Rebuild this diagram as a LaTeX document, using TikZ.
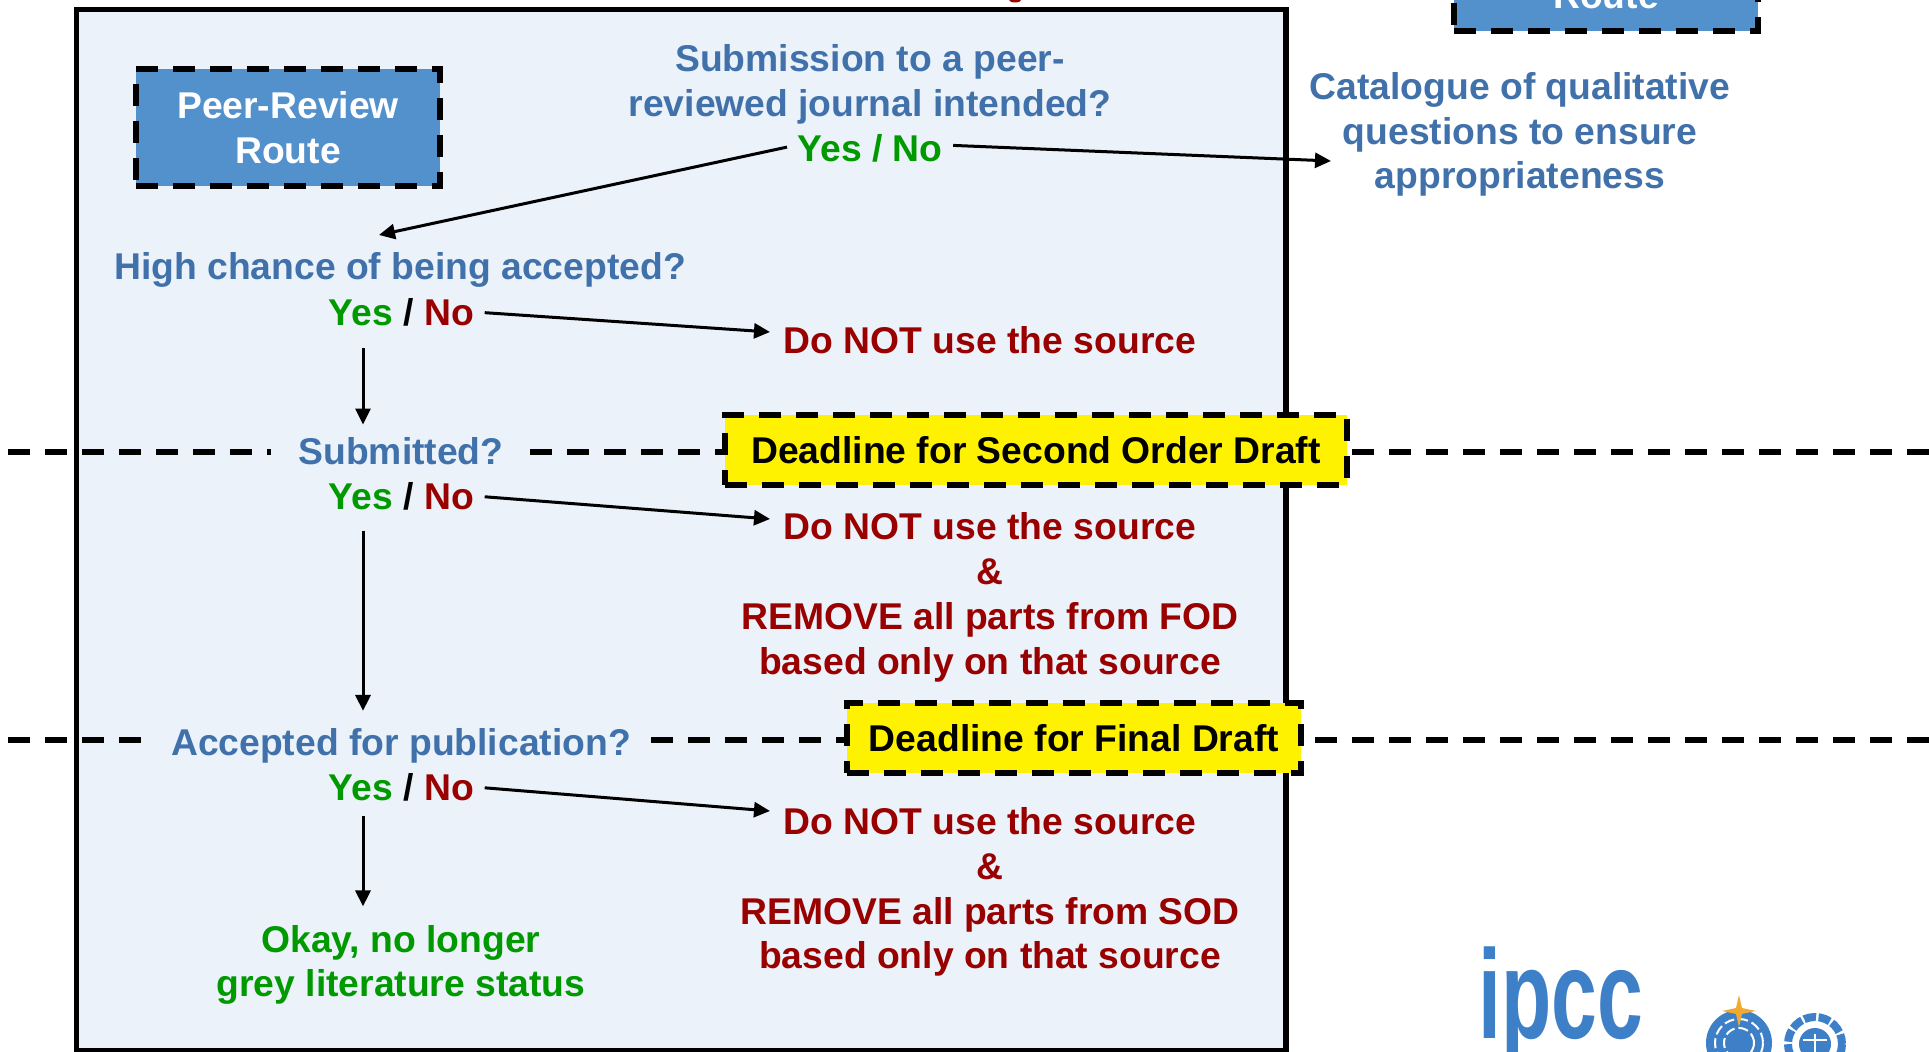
\documentclass[tikz,border=0pt]{standalone}
\usepackage{fontspec}
\setmainfont{Liberation Sans}
\usetikzlibrary{arrows.meta}
\definecolor{qblue}{RGB}{65,113,171}
\definecolor{okgreen}{RGB}{0,153,0}
\definecolor{nored}{RGB}{153,0,0}
\definecolor{boxblue}{RGB}{83,145,205}
\definecolor{panel}{RGB}{235,242,250}
\definecolor{logoblue}{RGB}{62,128,200}
\definecolor{stargold}{RGB}{240,170,50}
\tikzset{
	txt/.style={align=center,font=\fontsize{10.6}{12.75}\selectfont\bfseries,inner sep=0pt},
	question/.style={txt,text=qblue},
	stopnote/.style={txt,text=nored},
	routebox/.style={txt,fill=boxblue,text=white,draw=black,line width=0.55mm,dash pattern=on 2.2mm off 1.5mm,minimum width=3.04cm,minimum height=1.17cm},
	deadline/.style={txt,fill=yellow,text=black,draw=black,line width=0.55mm,dash pattern=on 2.2mm off 1.5mm,minimum height=0.7cm},
	flow/.style={-{Triangle[length=1.6mm,width=1.5mm]},line width=0.3mm},
	timeline/.style={black,line width=0.55mm,dash pattern=on 2.2mm off 1.5mm},
}
\newcommand{\yesno}{\textcolor{okgreen}{Yes} \textcolor{black}{/} \textcolor{nored}{No}}
\begin{document}
\begin{tikzpicture}[x=0.01cm,y=-0.01cm]
	\useasboundingbox (0,0) rectangle (1929,1052);
	\fill[white] (0,0) rectangle (1929,1052);
	\fill[nored] (1015,0) ellipse (6 and 2.5);
	\draw[fill=panel,line width=0.55mm] (76.5,9.5) rectangle (1286,1051);
	% deadline lines
	\draw[timeline] (8,452)--(271,452);
	\draw[timeline] (530,452)--(726,452);
	\draw[timeline] (1352,452)--(1929,452);
	\draw[timeline] (8,740)--(141,740);
	\draw[timeline] (651,740)--(846,740);
	\draw[timeline] (1315,740)--(1929,740);
	% boxes
	\node[routebox] (peerbox) at (288,127.5) {Peer-Review\\Route};
	\node[routebox] (otherbox) at (1606,-27.5) {\vphantom{Peer-Review}\\Route};
	\node[deadline,minimum width=6.22cm] (sod) at (1036,450) {Deadline for Second Order Draft};
	\node[deadline,minimum width=4.54cm] (fd) at (1074,738) {Deadline for Final Draft};
	% questions
	\node[question] (journal) at (870,84) {Submission to a peer-\\reviewed journal intended?};
	\node[txt,text=okgreen] (journalyn) at (870,148) {Yes / No};
	\node[question] (catalogue) at (1520,134.5) {Catalogue of qualitative\\questions to ensure\\appropriateness};
	\node[question] (chance) at (400,270) {High chance of being accepted?};
	\node[txt] (chanceyn) at (401.5,312) {\yesno};
	\node[stopnote] (stopa) at (990,340) {Do NOT use the source};
	\node[question] (submitted) at (401,451) {Submitted?};
	\node[txt] (submittedyn) at (401.5,496) {\yesno};
	\node[stopnote] (stopb) at (990,597.5) {Do NOT use the source\\\&\\REMOVE all parts from FOD\\based only on that source};
	\node[question] (accepted) at (401,746) {Accepted for publication?};
	\node[txt] (acceptedyn) at (401.5,787) {\yesno};
	\node[stopnote] (stopc) at (990,892) {Do NOT use the source\\\&\\REMOVE all parts from SOD\\based only on that source};
	\node[txt,text=okgreen] (okay) at (401,965) {Okay, no longer\\grey literature status};
	% free ends
	\coordinate (chancein) at (379,235);
	\coordinate (cataloguein) at (1331,161);
	\coordinate (stopain) at (770,332);
	\coordinate (stopbin) at (770,519);
	\coordinate (stopcin) at (770,811);
	\coordinate (yesline) at (363,0);
	% arrows
	\draw[flow,shorten <=0.1cm] ([yshift=0.03cm]journalyn.west) -- (chancein);
	\draw[flow,shorten <=0.1cm] ([yshift=0.03cm]journalyn.east) -- (cataloguein);
	\draw[flow,shorten <=0.1cm] (chanceyn.east) -- (stopain);
	\draw[flow,shorten <=0.1cm] (submittedyn.east) -- (stopbin);
	\draw[flow,shorten <=0.1cm] (acceptedyn.east) -- (stopcin);
	\draw[flow,shorten <=0.21cm,shorten >=0.12cm] (chanceyn.south -| yesline) -- (submitted.north -| yesline);
	\draw[flow,shorten <=0.2cm,shorten >=0.17cm] (submittedyn.south -| yesline) -- (accepted.north -| yesline);
	\draw[flow,shorten <=0.14cm,shorten >=0.18cm] (acceptedyn.south -| yesline) -- (okay.north -| yesline);
	% logo
	\node[text=logoblue,inner sep=0pt,anchor=base,font=\fontsize{36}{36}\selectfont\bfseries] (ipcc) at (1561,1039) {\scalebox{0.65}[1]{ipcc}};
	\fill[logoblue] (1739,1043) circle (33);
	\draw[white,line width=0.2mm,dash pattern=on 1mm off 0.4mm] (1739,1043) circle (24);
	\draw[white,line width=0.2mm,dash pattern=on 1mm off 0.4mm] (1739,1043) circle (15);
	\fill[stargold] (1739,995) -- (1742,1008) -- (1756,1011) -- (1742,1014) -- (1739,1027) -- (1736,1014) -- (1722,1011) -- (1736,1008) -- cycle;
	\draw[logoblue,line width=0.8mm,dash pattern=on 1.2mm off 0.25mm] (1815,1044) circle (27);
	\fill[logoblue] (1815,1044) circle (16);
	\draw[white,line width=0.25mm] (1803,1040) -- (1827,1040) (1815,1034) -- (1815,1060);
\end{tikzpicture}
\end{document}
